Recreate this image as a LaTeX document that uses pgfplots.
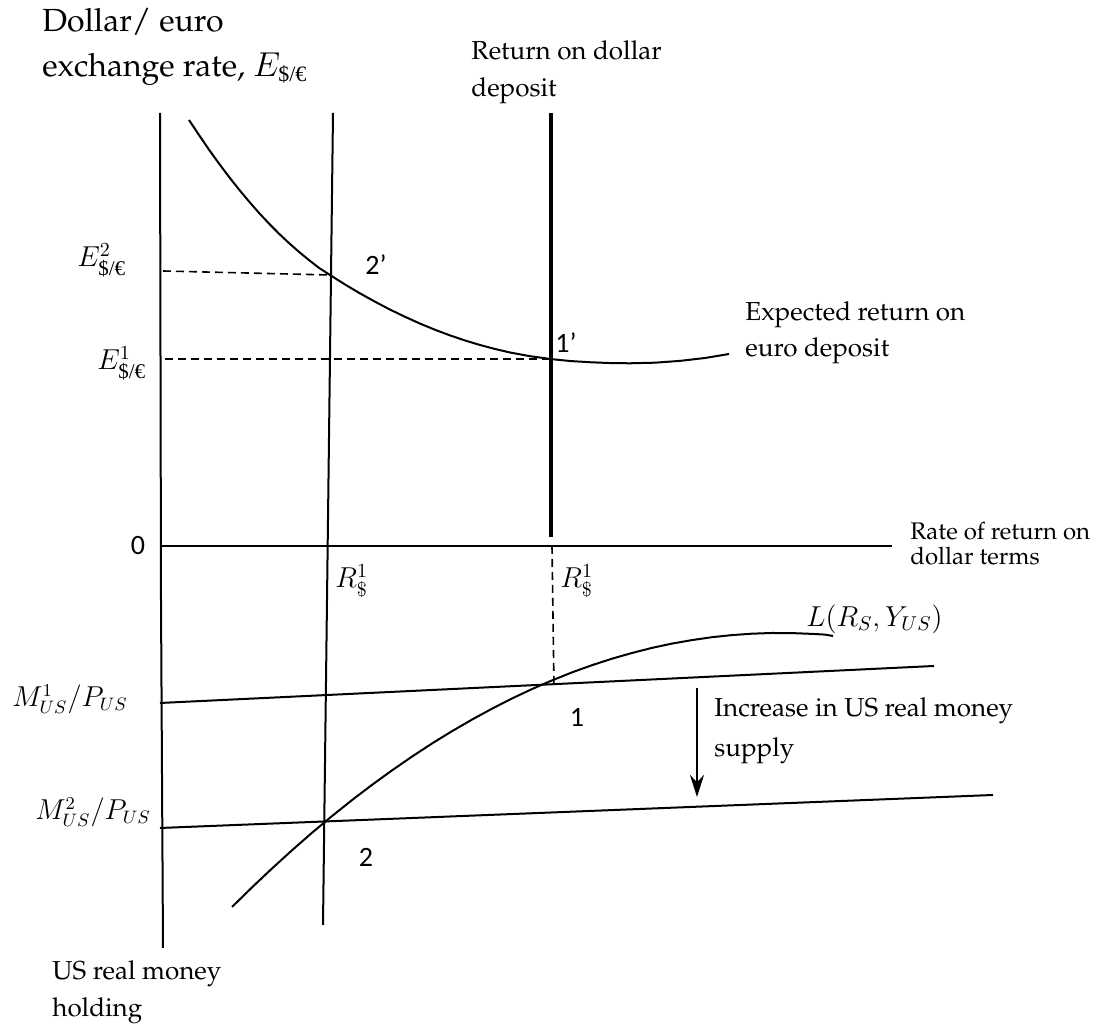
\documentclass[border=0pt]{standalone}
\usepackage[T1]{fontenc}
\usepackage{fontspec}
\usepackage{amsmath}
\usepackage{pgfplots}
\pgfplotsset{compat=1.18}
\usetikzlibrary{arrows.meta}
\setmainfont{Liberation Serif}
\newfontfamily\calibri{Carlito}
\newcommand\pal{\fontencoding{T1}\fontfamily{ppl}\selectfont}
\newcommand\eu[1]{\mbox{\normalfont\fontsize{#1}{#1}\selectfont\$/€}}
\begin{document}
\begin{tikzpicture}
\begin{axis}[scale only axis, width=547pt, height=513.5pt,
  xmin=0, xmax=1094, ymin=-1027, ymax=0, hide axis, clip=false]
% axes
\addplot[black, line width=1pt] coordinates {(160,-113) (161,-600) (163,-948)};
\addplot[black, line width=1pt] coordinates {(160,-546) (892,-546)};
% R1 vertical (left)
\addplot[black, line width=1pt] coordinates {(333,-113) (323,-925)};
% return on dollar deposit
\addplot[black, line width=1.6pt] coordinates {(551,-113) (551,-537)};
% expected return on euro deposit
\addplot[black, line width=1pt] coordinates {
 (189,-120) (199,-135) (209,-149.7) (219,-163.6) (229,-176.9) (239,-189.5)
 (249,-201.5) (259,-212.9) (269,-223.6) (279,-233.7) (289,-243.1) (299,-251.9)
 (309,-260.1) (319,-267.9) (330,-275) (345,-284.5) (360,-293.4) (375,-301.7)
 (390,-309.6) (405,-316.8) (420,-323.6) (435,-329.8) (450,-335.4) (465,-340.5)
 (480,-345.0) (495,-349.0) (510,-352.5) (530,-356.2) (551,-359.1) (571,-361.1)
 (591,-362.3) (611,-363.1) (630,-363.3) (655,-362.7) (680,-360.9) (705,-358.0) (729,-354.0)};
% money supply lines
\addplot[black, line width=1pt] coordinates {(160,-703) (934,-666)};
\addplot[black, line width=1pt] coordinates {(160,-828) (993,-795)};
% money demand
\addplot[black, line width=1pt] coordinates {
 (232,-907) (252,-887.4) (272,-868.5) (292,-850.3) (312,-832.8) (332,-816.1)
 (352,-800.1) (372,-784.9) (392,-770.4) (412,-756.6) (432,-743.5) (452,-731.2)
 (472,-719.6) (492,-708.7) (512,-698.5) (532,-689.1) (552,-680.4) (572,-672.4)
 (592,-665.2) (612,-658.7) (632,-653.0) (652,-647.9) (672,-643.6) (692,-640.1)
 (712,-637.2) (732,-635.1) (752,-633.7) (772,-633.0) (792,-633.1) (812,-633.9) (825,-634.6) (833,-636)};
% dashed guides
\addplot[black, line width=0.8pt, dash pattern=on 4pt off 2.5pt] coordinates {(163,-271) (330,-275)};
\addplot[black, line width=0.8pt, dash pattern=on 4pt off 2.5pt] coordinates {(165,-359) (551,-359)};
\addplot[black, line width=0.8pt, dash pattern=on 4pt off 2.5pt] coordinates {(552,-546) (554,-688)};
% arrow
\addplot[black, line width=1pt, -{Stealth[length=11pt,width=7pt]}] coordinates {(697,-688) (697,-797)};
% texts
\begin{scope}[every node/.style={inner sep=0pt, anchor=mid west}]
\node[font=\pal\fontsize{16}{18}\selectfont] at (axis cs:42,-27) {Dollar/ euro};
\node[font=\pal\fontsize{16}{18}\selectfont] at (axis cs:42,-72) {exchange rate, $E_{\eu{11}}$};
\node[font=\pal\fontsize{13}{15}\selectfont] at (axis cs:471,-55) {Return on dollar};
\node[font=\pal\fontsize{13}{15}\selectfont] at (axis cs:471,-92) {deposit};
\node[font=\pal\fontsize{13}{15}\selectfont] at (axis cs:745,-316) {Expected return on};
\node[font=\pal\fontsize{13}{15}\selectfont] at (axis cs:745,-352) {euro deposit};
\node[font=\pal\fontsize{12}{14}\selectfont] at (axis cs:910,-535) {Rate of return on};
\node[font=\pal\fontsize{12}{14}\selectfont] at (axis cs:910,-560) {dollar terms};
\node[font=\pal\fontsize{13}{15}\selectfont] at (axis cs:714,-712) {Increase in US real money};
\node[font=\pal\fontsize{13}{15}\selectfont] at (axis cs:714,-752) {supply};
\node[font=\pal\fontsize{13}{15}\selectfont] at (axis cs:52,-975) {US real money};
\node[font=\pal\fontsize{13}{15}\selectfont] at (axis cs:52,-1012) {holding};
% Calibri-like numbers
\node[font=\calibri\fontsize{14}{16}\selectfont, anchor=center] at (axis cs:138,-546) {0};
\node[font=\calibri\fontsize{14}{16}\selectfont, anchor=center] at (axis cs:376,-265) {2’};
\node[font=\calibri\fontsize{14}{16}\selectfont, anchor=center] at (axis cs:566,-343) {1’};
\node[font=\calibri\fontsize{14}{16}\selectfont, anchor=center] at (axis cs:577,-718) {1};
\node[font=\calibri\fontsize{14}{16}\selectfont, anchor=center] at (axis cs:366,-857) {2};
% math labels
\node[font=\fontsize{14.5}{16}\selectfont] at (axis cs:77,-262) {$E^2_{\eu{10.5}}$};
\node[font=\fontsize{14.5}{16}\selectfont] at (axis cs:97,-365) {$E^1_{\eu{10.5}}$};
\node[font=\fontsize{14}{16}\selectfont] at (axis cs:335,-583) {$R^1_{\$}$};
\node[font=\fontsize{14}{16}\selectfont] at (axis cs:560,-583) {$R^1_{\$}$};
\node[font=\fontsize{13.5}{16}\selectfont] at (axis cs:12,-702) {$M^1_{US}/P_{US}$};
\node[font=\fontsize{13.5}{16}\selectfont] at (axis cs:35,-815) {$M^2_{US}/P_{US}$};
\node[font=\fontsize{14}{16}\selectfont] at (axis cs:806,-622) {$L(R_S,Y_{US})$};
\end{scope}
\end{axis}
\pgfresetboundingbox
\path (0,0) rectangle (547pt,513.5pt);
\end{tikzpicture}
\end{document}
